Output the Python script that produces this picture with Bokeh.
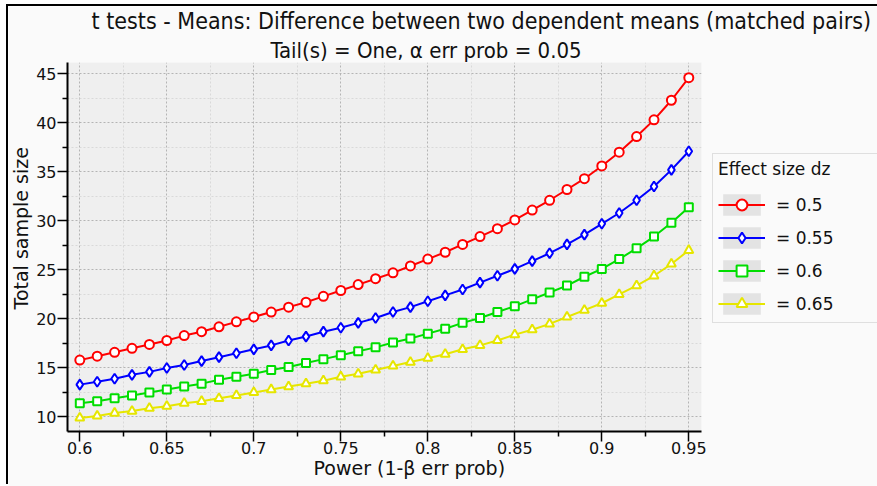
from bokeh.plotting import figure
from bokeh.models import (FixedTicker, Legend, LegendItem, Range1d, Title)
from bokeh.embed import file_html
from bokeh.resources import INLINE

# ---------------- data ----------------
power = [0.60, 0.61, 0.62, 0.63, 0.64, 0.65, 0.66, 0.67, 0.68, 0.69,
         0.70, 0.71, 0.72, 0.73, 0.74, 0.75, 0.76, 0.77, 0.78, 0.79,
         0.80, 0.81, 0.82, 0.83, 0.84, 0.85, 0.86, 0.87, 0.88, 0.89,
         0.90, 0.91, 0.92, 0.93, 0.94, 0.95]
n_d050 = [15.8, 16.2, 16.6, 17.0, 17.4, 17.8, 18.3, 18.7, 19.2, 19.7,
          20.2, 20.7, 21.2, 21.7, 22.3, 22.9, 23.5, 24.1, 24.7, 25.4,
          26.1, 26.8, 27.6, 28.4, 29.2, 30.1, 31.1, 32.1, 33.2, 34.3,
          35.6, 37.0, 38.6, 40.3, 42.3, 44.6]
n_d055 = [13.3, 13.6, 13.9, 14.3, 14.6, 15.0, 15.3, 15.7, 16.1, 16.5,
          16.9, 17.3, 17.8, 18.2, 18.7, 19.1, 19.6, 20.1, 20.7, 21.2,
          21.8, 22.4, 23.0, 23.7, 24.4, 25.1, 25.9, 26.7, 27.6, 28.6,
          29.7, 30.8, 32.1, 33.5, 35.2, 37.1]
n_d060 = [11.4, 11.6, 11.9, 12.2, 12.5, 12.8, 13.1, 13.4, 13.8, 14.1,
          14.4, 14.8, 15.1, 15.5, 15.9, 16.3, 16.7, 17.1, 17.6, 18.0,
          18.5, 19.0, 19.6, 20.1, 20.7, 21.3, 22.0, 22.7, 23.4, 24.3,
          25.1, 26.1, 27.2, 28.4, 29.8, 31.4]
n_d065 = [9.9, 10.1, 10.4, 10.6, 10.9, 11.1, 11.4, 11.6, 11.9, 12.2,
          12.5, 12.8, 13.1, 13.4, 13.7, 14.1, 14.4, 14.8, 15.2, 15.6,
          16.0, 16.4, 16.9, 17.3, 17.8, 18.4, 18.9, 19.5, 20.2, 20.9,
          21.6, 22.5, 23.4, 24.4, 25.6, 27.0]

series_labels = ["= 0.5", "= 0.55", "= 0.6", "= 0.65"]
legend_title = "Effect size dz"

x_ticks = [0.6, 0.65, 0.7, 0.75, 0.8, 0.85, 0.9, 0.95]
x_tick_labels = ["0.6", "0.65", "0.7", "0.75", "0.8", "0.85", "0.9", "0.95"]
x_minor = [0.625, 0.675, 0.725, 0.775, 0.825, 0.875, 0.925]
y_ticks = [10, 15, 20, 25, 30, 35, 40, 45]
y_tick_labels = ["10", "15", "20", "25", "30", "35", "40", "45"]
y_minor = [12.5, 17.5, 22.5, 27.5, 32.5, 37.5, 42.5]

title_1 = "t tests - Means: Difference between two dependent means (matched pairs)"
title_2 = "Tail(s) = One, \u03b1 err prob = 0.05"
x_label = "Power (1-\u03b2 err prob)"
y_label = "Total sample size"

# ---------------- figure ----------------
FONT = "DejaVu Sans"
TFONT = "DejaVu Sans Condensed"
p = figure(frame_width=634, frame_height=369,
           x_range=Range1d(0.59293, 0.9573), y_range=Range1d(8.52, 46.15),
           min_border_left=59, min_border_right=176,
           min_border_top=56, min_border_bottom=55,
           output_backend="svg", toolbar_location=None,
           background_fill_color="#efefef", border_fill_color="#fafafa",
           outline_line_color=None)
p.styles = {"margin-left": "8px", "margin-top": "6px",
            "box-shadow": "-2px -2px 0px 0px #000000"}

# axes
p.xaxis.ticker = FixedTicker(ticks=x_ticks, minor_ticks=x_minor)
p.yaxis.ticker = FixedTicker(ticks=y_ticks, minor_ticks=y_minor)
p.xaxis.major_label_overrides = dict(zip(x_ticks, x_tick_labels))
p.yaxis.major_label_overrides = dict(zip(y_ticks, y_tick_labels))
for ax in (p.xaxis[0], p.yaxis[0]):
    ax.axis_line_width = 2
    ax.axis_line_color = "black"
    ax.major_tick_line_color = "black"
    ax.minor_tick_line_color = "black"
    ax.major_tick_line_width = 1.5
    ax.minor_tick_line_width = 1.5
    ax.major_tick_in = 0
    ax.major_tick_out = 10
    ax.minor_tick_in = 0
    ax.minor_tick_out = 5
    ax.major_label_text_font = FONT
    ax.major_label_text_font_size = "16px"
    ax.major_label_text_color = "#111111"
p.xaxis.major_label_standoff = 0
p.yaxis.major_label_standoff = 1

for g in (p.xgrid[0], p.ygrid[0]):
    g.grid_line_color = "#b4b4b4"
    g.grid_line_dash = "2 2"
    g.grid_line_width = 1
    g.minor_grid_line_color = "#d9d9d9"
    g.minor_grid_line_dash = "2 2"
    g.minor_grid_line_width = 1
p.xgrid.ticker = FixedTicker(ticks=x_ticks, minor_ticks=x_minor)
p.ygrid.ticker = FixedTicker(ticks=y_ticks, minor_ticks=y_minor)

# series
colors = ["#ff0000", "#0000ff", "#00dd00", "#e6e600"]
markers = ["circle", "diamond", "square", "triangle"]
sizes = [9, 10, 8, 9]
series = [n_d050, n_d055, n_d060, n_d065]

# legend swatch background (placed below the visible y range, only shows in the legend)
swatch = p.quad(left=[0.6], right=[0.61], top=[0.0], bottom=[-1.0],
                fill_color="#e3e3e3", line_color=None)

items = []
for lab, ys, c, m, s in zip(series_labels, series, colors, markers, sizes):
    rl = p.line(power, ys, line_color=c, line_width=2)
    rm = p.scatter(power, ys, marker=m, size=s, line_color=c, line_width=2, fill_color="white")
    items.append(LegendItem(label=lab, renderers=[swatch, rl, rm]))

legend = Legend(items=items, title=legend_title, location=(11, 108), margin=0,
                glyph_width=47, glyph_height=27, spacing=6, padding=5,
                label_standoff=11, title_standoff=12, label_width=100,
                title_text_font=FONT, title_text_font_size="17px",
                title_text_font_style="normal", title_text_color="#111111",
                label_text_font=FONT, label_text_font_size="17px",
                label_text_color="#111111",
                border_line_color="#c4c4c4", border_line_width=1,
                background_fill_color="#fafafa", background_fill_alpha=1)
p.add_layout(legend, "right")

# titles and axis titles
p.add_layout(Title(text=title_2, align="left", offset=203, standoff=0,
                   vertical_align="bottom",
                   text_font=TFONT, text_font_size="22px", text_font_style="normal",
                   text_color="#111111"), "above")
p.add_layout(Title(text=title_1, align="left", offset=24, standoff=0,
                   vertical_align="top",
                   text_font=TFONT, text_font_size="23px", text_font_style="normal",
                   text_color="#111111"), "above")
p.add_layout(Title(text=x_label, align="left", offset=246, standoff=0,
                   vertical_align="top",
                   text_font=FONT, text_font_size="19px", text_font_style="normal",
                   text_color="#111111"), "below")
p.add_layout(Title(text=y_label, align="left", offset=122, standoff=0,
                   vertical_align="top",
                   text_font=FONT, text_font_size="19px", text_font_style="normal",
                   text_color="#111111"), "left")

html = file_html(p, INLINE)
html = html.replace("<head>", "<head><style>html,body{margin:0;overflow:hidden;}</style>", 1)
open("out.html", "w").write(html)
